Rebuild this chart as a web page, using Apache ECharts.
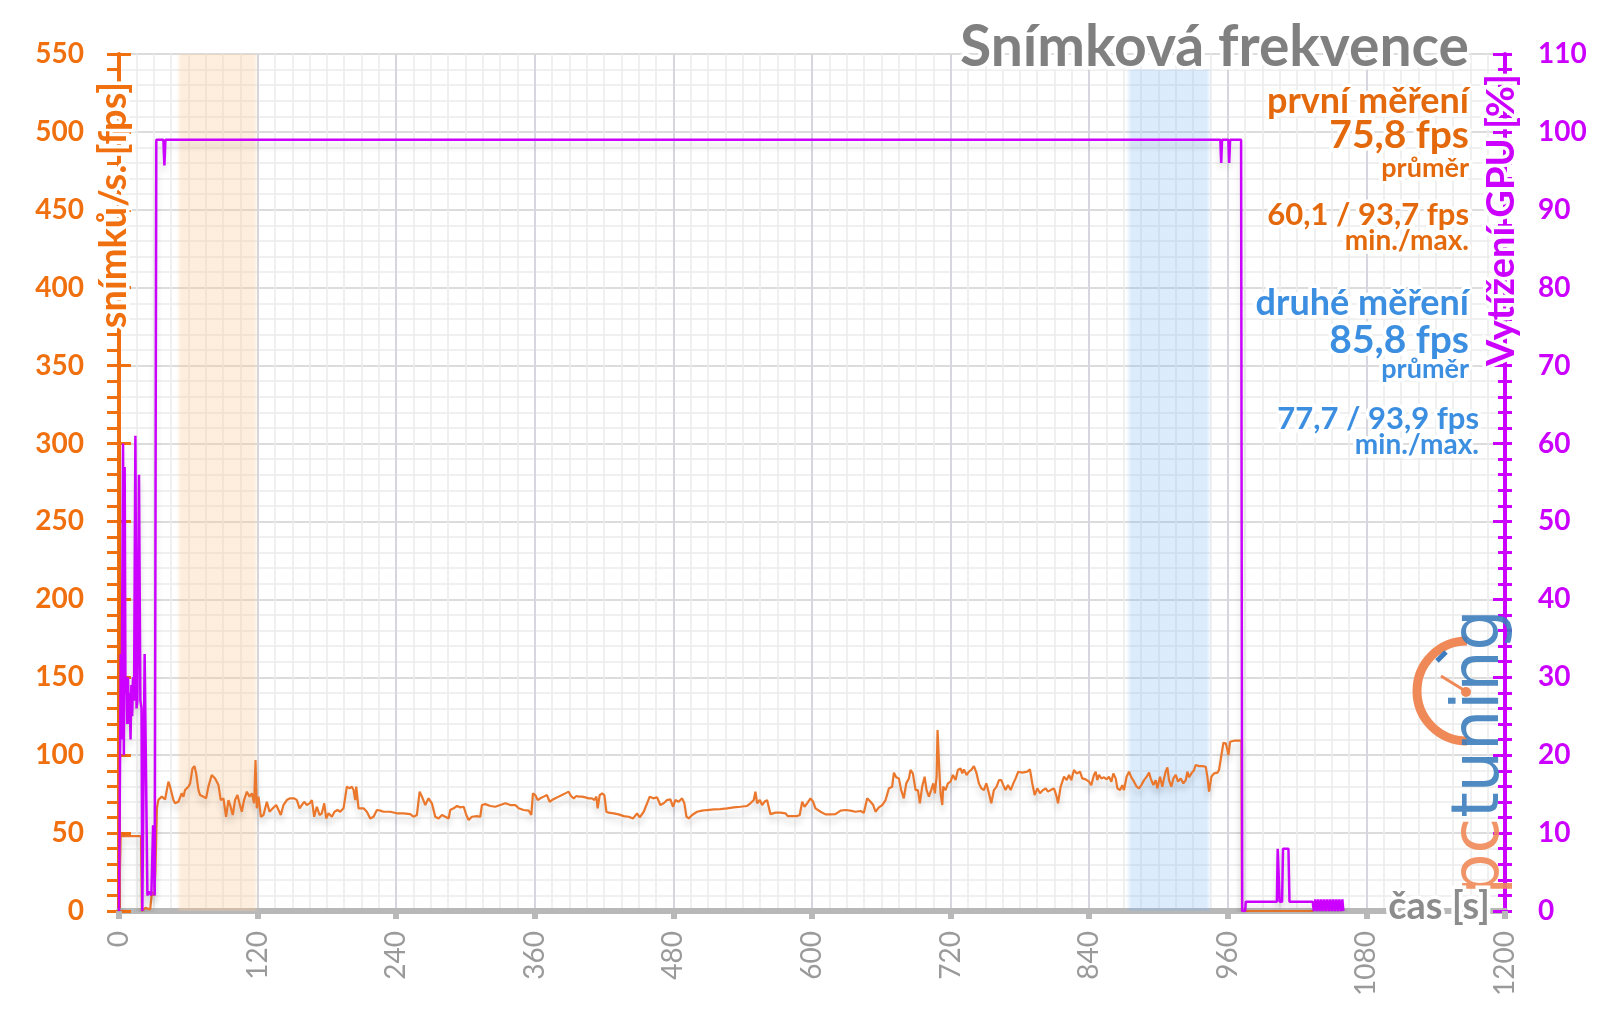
<!DOCTYPE html>
<html>
<head>
<meta charset="utf-8">
<script src="https://cdn.jsdelivr.net/npm/echarts@6/dist/echarts.min.js"></script>
<style>
html,body{margin:0;padding:0;background:#fff;}
#chart{width:1600px;height:1009px;}
</style>
</head>
<body>
<div id="chart"></div>
<script>
// ---------- DATA ----------
const titleText = 'Snímková frekvence';
const xAxisName = 'čas [s]';
const leftAxisName = 'snímků/s. [fps]';
const rightAxisName = 'Vytížení GPU [%]';
const firstInfo = ['první měření', '75,8 fps', 'průměr', '60,1 / 93,7 fps', 'min./max.'];
const secondInfo = ['druhé měření', '85,8 fps', 'průměr', '77,7 / 93,9 fps', 'min./max.'];

// measurement windows [start s, end s, top fps]
const bandFirst = [49.5, 121, 550];
const bandSecond = [872, 946, 540];

// frame rate [time s, fps]
const fpsPoints = [
[0,0],[0.6,0],[1.5,50],[2.5,48],[19,48],[19.8,0],[23,2],[27,1],[28.5,12],[30.5,10],[31.5,25],[32.8,66],
[34.1,71.3],[37.0,73.4],[39.9,71.6],[41.3,71.2],[42.8,83.0],[44.2,79.8],[45.7,80.8],[47.1,71.2],[48.6,69.1],[51.4,70.1],[54.3,75.5],[55.8,73.4],[57.2,77.6],[60.1,79.8],[61.6,81.9],[63.6,91.5],[65.3,93.0],[66.8,88.3],[68.8,77.6],[70.2,74.4],[73.1,73.4],[75.4,72.3],[77.4,79.8],[80.3,87.3],[83.2,85.1],[86.1,80.8],[88.1,71.2],[90.4,72.3],[92.7,60.5],[94.8,71.2],[96.2,68.0],[98.5,61.6],[100.5,71.2],[102.6,74.4],[104.3,69.1],[106.3,63.7],[108.3,71.2],[110.7,76.6],[113.0,73.4],[115.0,75.5],[117.0,69.1],[118.2,96.9],[119.3,65.9],[120.8,73.4],[122.8,60.5],[125.1,61.6],[128.0,70.1],[130.3,63.7],[133.2,65.9],[136.1,68.0],[138.1,64.8],[140.1,61.6],[142.4,68.0],[145.3,71.2],[148.2,72.3],[151.7,72.3],[154.0,71.2],[156.3,65.9],[158.3,68.0],[160.3,70.1],[162.6,68.0],[165.0,69.1],[167.0,71.2],[169.0,60.5],[171.3,66.9],[173.6,61.6],[175.6,62.7],[177.7,69.1],[179.4,59.4],[181.4,62.7],[184.3,60.5],[186.6,63.7],[189.2,64.8],[191.5,63.7],[194.4,65.9],[197.3,79.8],[199.6,78.7],[201.6,79.8],[203.1,77.6],[204.5,71.2],[205.4,79.8],[207.4,65.9],[211.7,65.9],[214.6,63.7],[217.5,59.4],[220.4,60.5],[223.3,64.8],[226.2,64.4],[229.1,63.7],[234.8,63.7],[240.6,62.7],[246.4,62.7],[252.2,62.2],[255.0,60.5],[257.9,61.6],[260.3,76.6],[262.3,73.4],[265.2,68.0],[268.0,72.3],[270.9,69.1],[273.8,60.5],[276.7,59.4],[279.6,61.6],[282.5,60.5],[285.4,59.4],
[286.8,64.8],[289.7,65.9],[292.6,67.4],[295.5,66.5],[298.4,66.9],[300.7,61.6],[302.7,58.4],[305.6,60.5],[309.9,60.9],[312.8,60.5],[314.2,68.0],[317.1,68.6],[321.5,67.4],[325.8,66.9],[330.1,68.0],[334.5,69.1],[338.8,68.0],[343.1,68.0],[346.0,65.9],[350.3,64.8],[354.7,64.4],[357.0,61.6],[358.4,75.5],[360.4,74.4],[362.5,71.2],[364.8,72.3],[367.7,73.4],[370.5,74.4],[372.9,70.1],[374.9,71.2],[377.8,72.3],[380.7,73.4],[383.5,74.4],[386.4,75.5],[389.3,76.6],[391.3,73.8],[393.7,72.3],[396.0,73.8],[398.0,73.4],[400.9,73.4],[403.8,72.9],[406.7,72.3],[409.5,72.3],[411.6,71.2],[413.3,73.4],[414.4,65.9],[416.2,74.4],[418.2,75.5],[420.2,74.4],[422.0,63.7],[424.0,63.1],[428.3,62.7],[432.6,62.0],[437.0,60.9],[441.3,60.5],[445.1,59.4],[448.5,62.7],[450.8,60.1],[454.3,63.7],[457.2,69.1],[459.5,73.4],[462.4,72.3],[465.9,72.9],[468.7,68.0],[471.6,69.1],[474.5,71.2],[477.4,71.6],[479.7,66.9],[481.7,71.2],[484.6,70.1],[487.5,72.3],[489.5,69.1],[491.3,60.5],[493.3,59.4],[496.2,61.6],[500.5,63.7],[504.8,64.4],[509.2,64.8],[515.0,65.2],[520.7,65.4],[526.5,65.9],[532.3,66.5],[538.1,66.9],[543.8,67.4],
[546.7,69.1],[549.6,71.2],[551.0,76.6],[552.5,69.1],[554.8,71.2],[556.8,68.0],[558.8,70.1],[561.1,71.2],[562.6,70.1],[564.0,62.2],[568.4,63.1],[572.7,63.1],[577.0,62.7],[579.0,60.9],[582.8,60.9],[587.1,60.9],[589.4,61.6],[591.5,70.1],[593.5,66.9],[595.8,69.1],[598.7,72.3],[601.0,70.1],[603.0,65.9],[607.4,63.7],[611.7,62.0],[616.0,62.0],[620.3,62.2],[624.7,64.4],[629.0,64.8],[633.3,64.4],[637.7,63.7],[642.0,64.2],[644.9,63.1],[647.8,72.3],[650.7,70.1],[653.0,68.0],[655.0,63.7],[657.9,66.5],[660.8,68.0],[663.7,71.2],[666.6,78.7],[669.4,79.8],[670.9,88.8],[672.9,85.8],[675.2,85.1],[677.2,77.6],[679.5,72.3],[681.6,81.9],[683.9,85.1],[685.3,90.5],[687.3,88.3],[689.7,77.6],[691.7,77.6],[693.4,69.1],[695.4,79.8],[697.5,86.2],[699.2,77.6],[701.2,73.4],[703.2,77.6],[705.0,81.9],[706.4,75.5],[707.9,86.2],[708.7,116.1],[710.2,90.5],[711.3,75.5],[712.8,68.0],[713.6,79.8],[715.6,77.6],[717.7,81.9],[720.0,83.0],[722.0,87.3],[724.3,84.0],[726.3,90.5],[728.6,91.5],[730.1,88.3],[731.5,90.9],[733.8,87.3],[735.9,89.4],[737.9,90.5],[740.2,93.0],[742.5,88.3],[744.5,81.9],[746.6,78.7],[748.9,77.6],[750.9,81.9],[753.2,75.5],[755.2,69.1],[757.5,77.6],[759.8,79.8],[761.9,84.0],[763.9,84.0],[765.6,80.8],[767.6,77.6],[769.7,80.8],[772.0,77.6],[774.3,81.9],[776.3,85.1],[778.6,89.4],[782.1,88.8],[786.4,89.4],[788.7,90.9],[790.7,81.9],[792.8,74.4],[795.1,78.7],[797.4,75.5],[800.0,77.6],[802.3,78.7],[804.3,76.6],
[806.6,77.6],[809.5,78.7],[811.8,73.4],[813.0,69.1],[815.3,79.8],[818.2,86.2],[820.5,84.0],[822.5,87.3],[824.5,84.0],[826.8,90.5],[829.1,88.3],[832.0,89.4],[834.0,85.1],[836.9,84.5],[839.8,83.0],[841.8,80.8],[844.1,87.3],[845.6,89.4],[847.0,84.0],[848.5,87.3],[850.5,85.1],[852.8,85.8],[855.1,84.5],[857.1,86.2],[859.2,83.0],[860.9,88.3],[862.9,85.1],[864.4,78.7],[866.7,77.6],[868.7,80.8],[870.1,77.6],[872.4,86.2],[874.5,89.4],[876.5,85.8],[878.8,83.0],[881.1,79.8],[883.1,78.7],[885.2,80.8],[887.5,84.0],[889.8,86.2],[891.8,88.8],[893.2,85.1],[895.5,80.8],[897.6,84.0],[899.0,78.7],[901.3,86.2],[903.3,79.8],[904.8,85.1],[906.2,89.4],[907.7,92.2],[909.1,84.0],[911.1,79.8],[912.9,85.1],[914.9,87.3],[916.9,83.0],[919.2,85.1],[921.5,81.9],[923.6,84.0],[925.0,89.4],[926.5,85.8],[928.5,88.3],[930.8,90.5],[932.2,93.7],[935.1,93.0],[938.0,93.0],[940.9,92.6],[942.3,86.2],[943.8,76.6],[945.8,86.2],[948.1,88.3],[951.0,88.8],[952.4,90.5],[954.5,100.1],[956.2,108.0],[958.2,107.6],[959.7,103.3],[960.5,100.1],[962.0,108.6],[965.4,109.3],[969.8,109.3],[971.8,109.3],[972.3,0],[1034,0]
];

// GPU load [time s, %]
const gpuPoints = [
[0,0],[1.2,0],[1.5,33],[2.2,22],[3.5,60],[4.2,20],[4.9,57],[5.6,28],[6.4,30],[7.1,24],[7.8,30],[8.5,24],[9.2,28],[10,22],[10.7,29],[11.4,25],[12.1,30],[13,27],[14.2,61],[15.2,26],[15.9,27],[17.3,56],[18.5,27],[19.5,26],[20.2,0],[21,0],[22.2,33],[24.6,2],[26.6,2.5],[28,2],[29.5,11],[30.9,2],[32.3,99],
[38.4,99],[39.3,95.7],[40.2,99],[953.5,99],[954.3,96],[955,99],[960.5,99],[961.2,96],[962,99],[971.5,99],[972.5,0],[975,0],[975.6,1.2],
[1002.5,1.2],[1003.2,8],[1004.2,8],[1004.9,1.2],[1007,1.2],[1007.8,8],[1012.5,8],[1013.4,1.2],[1033.5,1.2],
[1034.5,0],[1035.8,1.5],[1037.1,0],[1038.4,1.5],[1039.7,0],[1041,1.5],[1042.3,0],[1043.6,1.5],[1044.9,0],[1046.2,1.5],[1047.5,0],[1048.8,1.5],[1050.1,0],[1051.4,1.5],[1052.7,0],[1054,1.5],[1055.3,0],[1056.6,1.5],[1057.9,0],[1059.2,1.5],[1060,0]
];

// ---------- STYLE ----------
const ORANGE_AX = '#f07010';
const ORANGE_TX = '#e4690c';
const ORANGE_LN = '#ea772c';
const BLUE_TX = '#3b8ee0';
const MAGENTA = '#cc00ff';
const GRAY = '#8c8c8c';
const FONT = 'Lato, "Open Sans", sans-serif';

function bandGradient(r, g, b, a) {
  return {
    type: 'linear', x: 0, y: 0, x2: 1, y2: 0,
    colorStops: [
      {offset: 0, color: `rgba(${r},${g},${b},0)`},
      {offset: 0.06, color: `rgba(${r},${g},${b},${a})`},
      {offset: 0.94, color: `rgba(${r},${g},${b},${a})`},
      {offset: 1, color: `rgba(${r},${g},${b},0)`}
    ]
  };
}

function txt(str, x, y, size, color, align, extra) {
  return Object.assign({
    type: 'text', x: x, y: y, z: 100, zlevel: 0,
    style: {
      text: str, fill: color, font: `bold ${size}px ${FONT}`,
      textAlign: align || 'right', textVerticalAlign: 'middle',
      stroke: '#ffffff', lineWidth: 7
    }
  }, extra || {});
}

const chart = echarts.init(document.getElementById('chart'), null, {renderer: 'canvas'});

const option = {
  backgroundColor: '#ffffff',
  animation: false,
  grid: {left: 119, right: 95, top: 54, bottom: 98, containLabel: false},
  xAxis: {
    type: 'value', min: 0, max: 1200, interval: 120,
    axisLine: {show: true, lineStyle: {color: '#b8b8b8', width: 6}},
    axisTick: {show: true, length: 8, lineStyle: {color: '#b8b8b8', width: 6}},
    axisLabel: {rotate: 90, color: '#9a9a9a', fontSize: 28, fontFamily: FONT, margin: 20,
      formatter: function (v) { return String(v); }},
    splitLine: {show: true, lineStyle: {color: '#d6d6de', width: 2}},
    minorTick: {show: false, splitNumber: 8},
    minorSplitLine: {show: true, lineStyle: {color: '#ececec', width: 1.5}}
  },
  yAxis: [
    {
      type: 'value', position: 'left', min: 0, max: 550, interval: 50,
      axisLine: {show: true, lineStyle: {color: ORANGE_AX, width: 4}},
      axisTick: {show: true, length: 12, lineStyle: {color: ORANGE_AX, width: 3}},
      minorTick: {show: true, splitNumber: 5, length: 12, lineStyle: {color: ORANGE_AX, width: 3}},
      axisLabel: {color: ORANGE_AX, fontSize: 28, fontWeight: 'bold', fontFamily: FONT, margin: 35},
      splitLine: {show: true, lineStyle: {color: '#dcdcdc', width: 2}},
      minorSplitLine: {show: true, lineStyle: {color: '#ececec', width: 1.5}}
    },
    {
      type: 'value', position: 'right', min: 0, max: 110, interval: 10,
      axisLine: {show: true, lineStyle: {color: MAGENTA, width: 4}},
      axisTick: {show: true, length: 7, lineStyle: {color: MAGENTA, width: 3}},
      minorTick: {show: true, splitNumber: 5, length: 7, lineStyle: {color: MAGENTA, width: 3}},
      axisLabel: {color: MAGENTA, fontSize: 28, fontWeight: 'bold', fontFamily: FONT, margin: 33},
      splitLine: {show: false}
    },
    {
      type: 'value', position: 'left', min: 0, max: 550, interval: 50, offset: 0,
      axisLine: {show: false},
      axisTick: {show: true, inside: true, length: 12, lineStyle: {color: ORANGE_AX, width: 3}},
      axisLabel: {show: false}, splitLine: {show: false}
    },
    {
      type: 'value', position: 'right', min: 0, max: 110, interval: 10, offset: 0,
      axisLine: {show: false},
      axisTick: {show: true, inside: true, length: 12, lineStyle: {color: MAGENTA, width: 3}},
      minorTick: {show: true, splitNumber: 5, length: 7, lineStyle: {color: MAGENTA, width: 3}},
      axisLabel: {show: false}, splitLine: {show: false}
    }
  ],
  series: [
    {
      name: 'fps', type: 'line', yAxisIndex: 0, data: fpsPoints,
      showSymbol: false, symbol: 'none', z: 3,
      lineStyle: {color: ORANGE_LN, width: 2.2, shadowColor: 'rgba(0,0,0,0.16)', shadowBlur: 6, shadowOffsetY: 6},
      markArea: {
        silent: true,
        data: [
          [{xAxis: bandFirst[0], yAxis: 0, itemStyle: {color: bandGradient(250, 200, 150, 0.32)}}, {xAxis: bandFirst[1], yAxis: bandFirst[2]}],
          [{xAxis: bandSecond[0], yAxis: 0, itemStyle: {color: bandGradient(120, 180, 245, 0.26)}}, {xAxis: bandSecond[1], yAxis: bandSecond[2]}]
        ]
      }
    },
    {
      name: 'gpu', type: 'line', yAxisIndex: 1, data: gpuPoints,
      showSymbol: false, symbol: 'none', z: 4,
      lineStyle: {color: MAGENTA, width: 2.5, shadowColor: 'rgba(0,0,0,0.14)', shadowBlur: 6, shadowOffsetY: 6}
    }
  ],
  graphic: [
    txt(titleText, 1469, 48, 57, '#808080', 'right'),
    txt(firstInfo[0], 1469, 101, 36, ORANGE_TX),
    txt(firstInfo[1], 1469, 135, 39, ORANGE_TX),
    txt(firstInfo[2], 1469, 168, 27, ORANGE_TX),
    txt(firstInfo[3], 1469, 215, 31, ORANGE_TX),
    txt(firstInfo[4], 1469, 241, 28, ORANGE_TX),
    txt(secondInfo[0], 1469, 303, 36, BLUE_TX),
    txt(secondInfo[1], 1469, 340, 39, BLUE_TX),
    txt(secondInfo[2], 1469, 369, 27, BLUE_TX),
    txt(secondInfo[3], 1479, 419, 31, BLUE_TX),
    txt(secondInfo[4], 1479, 445, 28, BLUE_TX),
    txt(xAxisName, 1490, 907, 38, GRAY, 'right'),
    txt(leftAxisName, 114, 205, 38, ORANGE_AX, 'center', {rotation: Math.PI / 2}),
    txt(rightAxisName, 1502, 220, 38, MAGENTA, 'center', {rotation: Math.PI / 2}),
    // logo
    {
      type: 'arc', z: 60,
      shape: {cx: 1467, cy: 691, r: 50, startAngle: Math.PI / 2, endAngle: Math.PI * 1.5, clockwise: true},
      style: {stroke: '#ef8a58', lineWidth: 9, fill: null}
    },
    {type: 'line', z: 61, shape: {x1: 1467, y1: 692, x2: 1441, y2: 676}, style: {stroke: '#ef8a58', lineWidth: 3}},
    {type: 'circle', z: 61, shape: {cx: 1466, cy: 692, r: 5}, style: {fill: '#ef8a58'}},
    {type: 'line', z: 61, shape: {x1: 1437, y1: 661, x2: 1446, y2: 652}, style: {stroke: '#3d7dbd', lineWidth: 5}},
    {
      type: 'text', x: 1481, y: 752, z: 62, rotation: Math.PI / 2,
      style: {
        text: '{a|pc}{b|tuning}', textAlign: 'center', textVerticalAlign: 'middle',
        rich: {
          a: {fill: '#ef8a58', font: `normal 65px "DejaVu Sans", sans-serif`},
          b: {fill: '#3d7dbd', font: `normal 65px "DejaVu Sans", sans-serif`}
        },
        opacity: 0.9
      }
    }
  ]
};

chart.setOption(option);
</script>
</body>
</html>
